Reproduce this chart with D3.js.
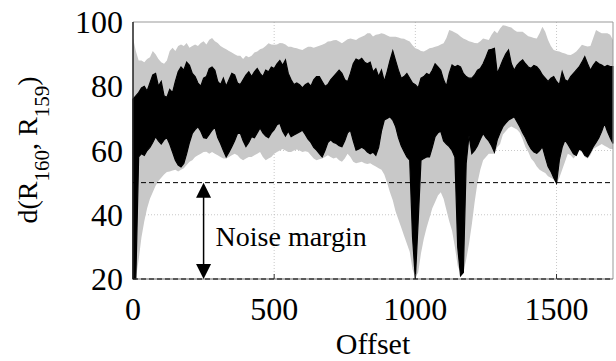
<!DOCTYPE html>
<html>
<head>
<meta charset="utf-8">
<script src="https://cdn.jsdelivr.net/npm/d3@7"></script>
<style>
  body { margin: 0; background: #fff; }
</style>
</head>
<body>
<figure id="chart" style="margin:0"></figure>
<script>
// sampling grid of the offset axis (every 10)
var offsets = d3.range(0, 1701, 10);

// outer envelope (light gray)
var grayTop = [
  95, 91, 88, 88, 87.5, 88.5, 89, 91, 90, 88.5,
  87.5, 87, 88, 91, 92, 91, 92.5, 93, 92.5, 93.5,
  92, 92.5, 93, 92.5, 93.5, 94, 93, 94.5, 95, 94,
  93.5, 92.5, 92, 91.5, 91, 90.5, 90, 89.5, 89.5, 88.5,
  89.5, 89, 89.5, 90.5, 90.8, 91.5, 91.8, 92.5, 93.4, 93,
  92.9, 93, 93.5, 93.4, 93, 92.3, 92.3, 92, 91.8, 91.5,
  91.3, 91.8, 92.3, 92.3, 92, 92.3, 92.6, 92.9, 93.3, 93.9,
  94, 94.3, 94.4, 93.9, 93.4, 94, 94.6, 94.9, 94.6, 94.4,
  95, 95.4, 95.8, 96.5, 96.5, 95.5, 96, 96.2, 96.5, 96.3,
  95.8, 95.4, 95.4, 95.4, 95.2, 94.9, 94.8, 94.3, 93.9, 92.8,
  91.8, 91.5, 91, 90.8, 91.3, 91.8, 92, 92.3, 92.5, 93,
  93.4, 95, 97.5, 97.2, 96.7, 96.3, 95.5, 94.9, 94.5, 94,
  93.8, 93.5, 93.4, 94, 94.9, 94.6, 94.4, 96, 97.3, 96.5,
  98, 99, 98.8, 98.5, 98.3, 97.5, 97, 97, 97, 96.3,
  95.6, 95.3, 95, 94.9, 96.5, 98.5, 97, 94.4, 92.5, 91.3,
  91, 90.8, 90.4, 90.2, 89.8, 89.7, 90.2, 90.8, 91.8, 92.9,
  92.6, 92.4, 92.5, 95, 97.5, 97, 96.5, 96.5, 96.5, 96,
  94.4
];
var grayBottom = [
  20, 20, 26, 33, 38, 42, 45, 47, 49, 50.5,
  51.5, 52.5, 53.3, 53.5, 53.8, 54, 53.5, 54, 54.5, 55.5,
  56.5, 57, 58, 58.5, 59, 59.5, 59.6, 59, 59.5, 59,
  58.5, 58, 57.5, 57.5, 58, 58.5, 59, 58.5, 57.5, 57,
  57.5, 58, 58, 58.5, 59, 59.5, 58, 57, 57.5, 58,
  59, 59.5, 60, 60.5, 60, 59.5, 59.5, 60, 60.3, 60,
  59.5, 59.8, 59.5, 58.5, 57.5, 57, 57.3, 57.5, 58, 58.5,
  58, 57.5, 57.8, 57, 56.5, 57.5, 59, 58, 56.5, 56,
  56.3, 56.5, 56, 55.8, 56, 55.5, 55, 54.5, 54, 52.5,
  50, 47, 44.5, 41, 38.5, 36, 33.5, 31, 28.5, 23,
  20.5, 22, 28, 32.5, 36, 39, 42, 44, 46, 47,
  45, 41.5, 38, 35, 30, 24, 22, 22, 26, 31,
  37, 44, 50, 54, 57, 58, 59, 59, 59, 61,
  62, 65, 66, 67, 67.5, 67, 66.5, 65.5, 63.5, 61,
  59.5, 57.5, 56.5, 55, 54, 53.5, 53, 52, 51.5, 51,
  49.5, 51.5, 54, 56.5, 59, 58.5, 57.5, 58.5, 60, 59.5,
  58, 57.5, 58.5, 60.5, 61, 61.5, 62, 61.5, 61, 60.5,
  60.5
];

// inner band (black)
var blackTop = [
  76, 77, 78, 79.5, 80, 78.5, 81, 83.5, 84, 80,
  81.5, 77, 76.5, 79, 78, 81.5, 84.5, 86, 85, 87.5,
  86.5, 84, 83, 81, 80, 82.5, 83, 85.5, 86, 85,
  81.5, 80.5, 82.5, 80, 82, 84, 83.5, 81, 80.5, 82,
  83.5, 84.5, 83, 84.5, 85.5, 84, 83, 85, 84.5, 86,
  85.5, 87, 88, 86.5, 88.2, 84, 82, 80.5, 81, 80.5,
  79.5, 80.5, 81, 80, 82, 83, 83, 81.5, 80, 80.5,
  82, 83, 84, 85, 84, 82, 81.4, 84, 87, 88.5,
  88, 88.7, 87.5, 87, 87.5, 84.5, 85.5, 83, 85, 81.5,
  84.5, 88, 91, 88, 85, 82.5, 83, 84, 82.5, 81,
  80.5, 79.5, 82.5, 83, 84, 83.5, 85, 87, 86, 85,
  82, 80, 84, 86.6, 86, 86.5, 86, 84, 83, 82.5,
  82.5, 83.5, 85, 85.5, 87, 89, 91.3, 91.5, 91.8, 84,
  86, 88.2, 90, 91.3, 87, 85, 86.5, 87.5, 88.2, 87,
  86, 85.6, 86.5, 86.1, 85, 83.5, 82.5, 81.5, 82.5, 83,
  81.5, 80.4, 84.5, 82, 81.5, 83, 84, 85, 86, 87.5,
  89.2, 87, 85, 86.5, 87.7, 87, 86.6, 86, 86.5, 86.1,
  86.1
];
var blackBottom = [
  20, 20, 58, 59, 58.5, 60, 61, 62.5, 64.3, 63,
  62, 63.3, 64, 62, 59.5, 57, 55.5, 54.9, 56, 59,
  62.5, 65.3, 66.5, 67.4, 66, 64, 63.8, 65, 66.3, 67.3,
  64, 62.2, 60, 58, 59.5, 61.2, 63, 65.3, 65.4, 63,
  61.2, 62.5, 64.3, 64, 65.5, 67, 65.5, 64.5, 64, 65.5,
  66.5, 68, 68.5, 66, 64.5, 66, 64.3, 64.8, 65.3, 65.8,
  66.3, 65, 63.5, 62.5, 61, 60.1, 59, 58, 60, 62.5,
  63.3, 62.5, 62.2, 61.5, 61.2, 63, 65.5, 66.3, 63, 60.1,
  60.5, 61, 60.5, 59.5, 59, 59.5, 58.5, 61, 66, 69.5,
  70, 70.5, 69.5, 67.5, 64, 61.5, 59.7, 58, 57, 33,
  20, 38, 57, 57.5, 58, 58, 61, 64.3, 65.5, 66,
  63, 62, 61.2, 60, 58, 30, 21, 22, 56, 64.7,
  59, 60, 61.5, 63.5, 65.3, 64, 63, 61.5, 59.5, 63.3,
  65.5, 67.4, 68.5, 69.5, 70, 70.5, 69, 67.4, 65.5, 64,
  62, 60.5, 59.5, 59.1, 60, 61.2, 58, 55, 53.5, 51.5,
  49.8, 57, 61, 63.3, 62, 60.5, 59, 58.5, 60.5, 60,
  58.5, 58, 59.5, 61.2, 62.5, 64, 66, 68.5, 66, 64,
  62.2
];

var xTicks = [0, 500, 1000, 1500];
var yTicks = [20, 40, 60, 80, 100];
var thresholds = [50, 20];
var marginLevels = [20, 50];
var marginOffset = 250;
var marginLabel = 'Noise margin';

var serif = '"Liberation Serif", "DejaVu Serif", serif';

var margin = {top: 22, right: 3, bottom: 82, left: 133};
var width = 616 - margin.left - margin.right;
var height = 361 - margin.top - margin.bottom;

var svg = d3.select('figure#chart').append('svg')
  .attr('width', 616)
  .attr('height', 361)
  .style('font-family', serif);

var chart = svg.append('g')
  .attr('transform', 'translate(' + margin.left + ',' + margin.top + ')');

var x = d3.scaleLinear().domain([0, 1700]).range([0, width]);
var y = d3.scaleLinear().domain([20, 100]).range([height, 0]);

// dotted grid
chart.append('g')
  .selectAll('line.gx')
  .data(xTicks.slice(1))
  .enter().append('line')
    .attr('x1', d => x(d)).attr('x2', d => x(d))
    .attr('y1', 0).attr('y2', height)
    .style('stroke', '#bbb').style('stroke-width', 0.8)
    .style('stroke-dasharray', '1,2');
chart.append('g')
  .selectAll('line.gy')
  .data(yTicks.slice(1, -1))
  .enter().append('line')
    .attr('x1', 0).attr('x2', width)
    .attr('y1', d => y(d)).attr('y2', d => y(d))
    .style('stroke', '#bbb').style('stroke-width', 0.8)
    .style('stroke-dasharray', '1,2');

var rows = offsets.map(function(o, i) {
  return {o: o, gt: grayTop[i], gb: grayBottom[i], bt: blackTop[i], bb: blackBottom[i]};
});

var grayArea = d3.area()
  .x(d => x(d.o)).y0(d => y(d.gb)).y1(d => y(d.gt));
var blackArea = d3.area()
  .x(d => x(d.o)).y0(d => y(d.bb)).y1(d => y(d.bt));

chart.append('path').datum(rows)
  .attr('d', grayArea)
  .style('fill', '#c8c8c8');
chart.append('path').datum(rows)
  .attr('d', blackArea)
  .style('fill', '#000')
  .style('stroke', '#000').style('stroke-width', 1.2);

// box
chart.append('line').attr('x1', 0).attr('x2', width).attr('y1', 0).attr('y2', 0)
  .style('stroke', '#999').style('stroke-width', 1);
chart.append('line').attr('x1', width).attr('x2', width).attr('y1', 0).attr('y2', height)
  .style('stroke', '#999').style('stroke-width', 1);
chart.append('line').attr('x1', 0).attr('x2', width).attr('y1', height).attr('y2', height)
  .style('stroke', '#666').style('stroke-width', 1);
chart.append('line').attr('x1', 0).attr('x2', 0).attr('y1', 0).attr('y2', height)
  .style('stroke', '#222').style('stroke-width', 1.5);

// x tick marks pointing inward
chart.append('g')
  .selectAll('line.tx')
  .data(xTicks.slice(1))
  .enter().append('line')
    .attr('x1', d => x(d)).attr('x2', d => x(d))
    .attr('y1', height).attr('y2', height - 5)
    .style('stroke', '#333').style('stroke-width', 1);

// dashed thresholds
chart.append('g')
  .selectAll('line.th')
  .data(thresholds)
  .enter().append('line')
    .attr('x1', 0).attr('x2', width)
    .attr('y1', d => y(d)).attr('y2', d => y(d))
    .style('stroke', '#000').style('stroke-width', 1)
    .style('stroke-dasharray', '5,3');

// noise margin arrow
var ax = x(marginOffset);
var yLo = y(marginLevels[0]), yHi = y(marginLevels[1]);
var headH = 15, headW = 7.5;
chart.append('line')
  .attr('x1', ax).attr('x2', ax)
  .attr('y1', yHi + headH - 2).attr('y2', yLo - headH + 2)
  .style('stroke', '#000').style('stroke-width', 1.5);
chart.append('path')
  .attr('d', 'M' + ax + ',' + yHi + 'L' + (ax - headW) + ',' + (yHi + headH) + 'L' + (ax + headW) + ',' + (yHi + headH) + 'Z')
  .style('fill', '#000');
chart.append('path')
  .attr('d', 'M' + ax + ',' + yLo + 'L' + (ax - headW) + ',' + (yLo - headH) + 'L' + (ax + headW) + ',' + (yLo - headH) + 'Z')
  .style('fill', '#000');
chart.append('text')
  .attr('x', ax + 12)
  .attr('y', y(33) + 9)
  .style('font-size', '28px')
  .text(marginLabel);

// tick labels
chart.append('g')
  .selectAll('text.xl')
  .data(xTicks)
  .enter().append('text')
    .attr('x', d => x(d))
    .attr('y', height + 41)
    .attr('text-anchor', 'middle')
    .style('font-size', '32px')
    .text(d => d);
chart.append('g')
  .selectAll('text.yl')
  .data(yTicks)
  .enter().append('text')
    .attr('x', -10)
    .attr('y', d => y(d) + 11)
    .attr('text-anchor', 'end')
    .style('font-size', '32px')
    .text(d => d);

// axis titles
svg.append('text')
  .attr('x', margin.left + x(850))
  .attr('y', 354)
  .attr('text-anchor', 'middle')
  .style('font-size', '30px')
  .text('Offset');

var yt = svg.append('text')
  .attr('transform', 'translate(37,150) rotate(-90)')
  .attr('text-anchor', 'middle')
  .style('font-size', '28px');
yt.append('tspan').text('d(R');
yt.append('tspan').attr('dy', 12).style('font-size', '21px').text('160');
yt.append('tspan').attr('dy', -12).text(', R');
yt.append('tspan').attr('dy', 12).style('font-size', '21px').text('159');
yt.append('tspan').attr('dy', -12).text(')');
</script>
</body>
</html>
